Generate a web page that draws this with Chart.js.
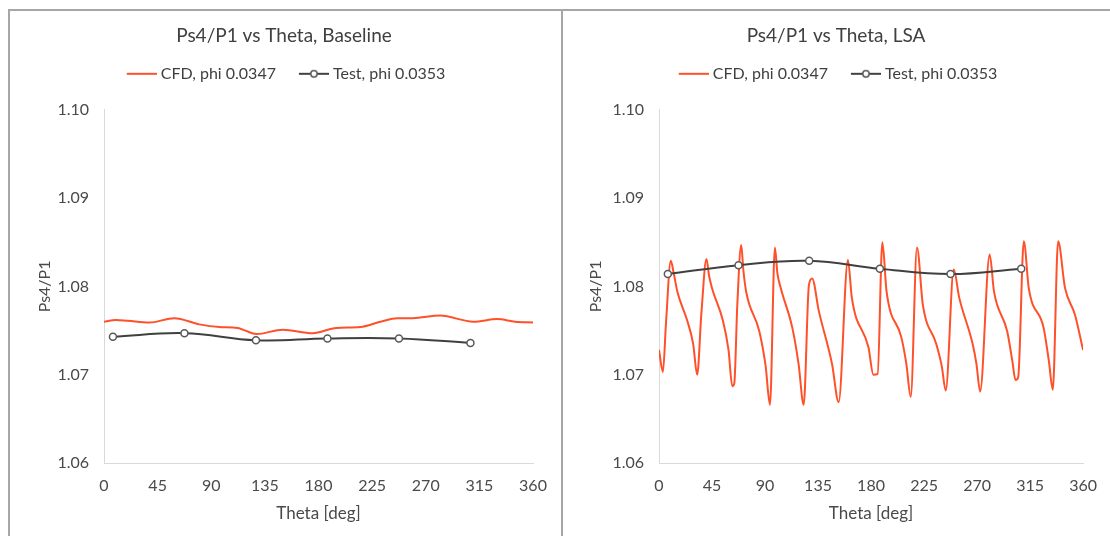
<!DOCTYPE html>
<html>
<head>
<meta charset="utf-8">
<script src="https://cdn.jsdelivr.net/npm/chart.js@4.4.1/dist/chart.umd.min.js"></script>
<style>
  html, body { margin: 0; padding: 0; background: #fff; }
  body { width: 1110px; height: 536px; position: relative; overflow: hidden; }
  .rule { position: absolute; background: #a6a6a6; }
  canvas { display: block; position: absolute; top: 12px; }
</style>
</head>
<body>
<div class="rule" style="left:8px;top:9px;width:1102px;height:2px"></div>
<div class="rule" style="left:8px;top:9px;width:2px;height:527px"></div>
<div class="rule" style="left:561px;top:9px;width:2px;height:527px"></div>
<canvas id="baseline" width="568" height="524" style="left:0px"></canvas>
<canvas id="lsa" width="548" height="524" style="left:562px"></canvas>

<script>
// Circumferential static pressure ratio Ps4/P1 against theta

const xTicks = [0, 45, 90, 135, 180, 225, 270, 315, 360];
const yTicks = [1.06, 1.07, 1.08, 1.09, 1.10];

const cfdLabel = 'CFD, phi 0.0347';
const testLabel = 'Test, phi 0.0353';

// Baseline: CFD trace
const cfdBaseTheta = [0, 10, 20, 38, 59, 80, 97, 112, 128, 150, 175, 195, 215, 232, 246, 259, 282, 310, 330, 345, 360];
const cfdBaseValue = [1.0760, 1.0762, 1.0761, 1.0759, 1.0764, 1.0757, 1.0754, 1.0753, 1.0746, 1.0751, 1.0747, 1.0753, 1.0754, 1.0760, 1.0764, 1.0764, 1.0767, 1.0760, 1.0763, 1.0760, 1.0759];

// Test probe positions (shared by both configurations)
const testTheta = [7.5, 67.5, 127.5, 187.5, 247.5, 307.5];
const testBaseValue = [1.0743, 1.0747, 1.0739, 1.0741, 1.0741, 1.0736];

// LSA: CFD trace
const cfdLsaTheta = [
  0, 3.3, 6, 10, 12.5, 15.6, 24, 29, 32.4,
  36, 40.3, 42.5, 45, 54.3, 59, 62.2, 63.9,
  66.5, 69.8, 71.5, 74, 85.2, 90.5, 94.2,
  98.4, 100.5, 103.4, 113.2, 118.5, 122.8,
  127.3, 130, 135.7, 146.9, 152.5,
  160.4, 163.7, 177.8, 182, 185.6,
  189.6, 193.2, 205.8, 210, 213.7,
  219, 224, 235.3, 240, 243.4,
  250.2, 254.9, 266.2, 269.5, 272.6,
  280.7, 284.4, 295.6, 300, 302.6, 304.9,
  309.7, 313.9, 326.5, 331, 334.3,
  338.8, 344.7, 353.1, 360
];
const cfdLsaValue = [
  1.0728, 1.0703, 1.0760, 1.0829, 1.0815, 1.0794, 1.0761, 1.0735, 1.0700,
  1.0770, 1.0831, 1.0812, 1.0798, 1.0761, 1.0728, 1.0687, 1.0690,
  1.0780, 1.0847, 1.0820, 1.0794, 1.0749, 1.0710, 1.0666,
  1.0844, 1.0815, 1.0798, 1.0753, 1.0712, 1.0666,
  1.0802, 1.0809, 1.0772, 1.0712, 1.0669,
  1.0830, 1.0787, 1.0731, 1.0700, 1.0701,
  1.0850, 1.0794, 1.0742, 1.0712, 1.0675,
  1.0844, 1.0779, 1.0735, 1.0710, 1.0682,
  1.0819, 1.0787, 1.0735, 1.0712, 1.0681,
  1.0836, 1.0794, 1.0749, 1.0715, 1.0694, 1.0697,
  1.0851, 1.0798, 1.0753, 1.0715, 1.0683,
  1.0851, 1.0798, 1.0768, 1.0728
];
const testLsaValue = [1.0814, 1.0824, 1.0829, 1.0820, 1.0814, 1.0820];

const cfdColor = '#ff5029';
const testColor = '#404040';
const textColor = '#4a4a4a';
const fontFamily = 'Lato, "DejaVu Sans", sans-serif';

const pairs = (xs, ys) => xs.map((x, i) => ({ x, y: ys[i] }));

// Legend glyphs: a 30px line sitting close to its label, optionally with an open marker
function makeGlyph(color, withMarker) {
  const c = document.createElement('canvas');
  c.width = 38; c.height = 10;
  const g = c.getContext('2d');
  g.strokeStyle = color;
  g.lineWidth = 2;
  g.beginPath(); g.moveTo(8, 5); g.lineTo(38, 5); g.stroke();
  if (withMarker) {
    g.beginPath(); g.arc(23, 5, 3.2, 0, Math.PI * 2);
    g.fillStyle = '#fff'; g.fill();
    g.lineWidth = 1.5; g.strokeStyle = '#595959'; g.stroke();
  }
  return c;
}
const cfdGlyph = makeGlyph(cfdColor, false);
const testGlyph = makeGlyph(testColor, true);

// Extra room between the legend row and the plot area
const legendGap = {
  id: 'legendGap',
  beforeInit(chart) {
    const fit = chart.legend.fit;
    chart.legend.fit = function () {
      fit.call(this);
      this.height += 18;
    };
  }
};

function buildChart(canvasId, titleText, cfdTheta, cfdValue, testValue, sidePad, yAxisWidth) {
  return new Chart(document.getElementById(canvasId), {
    type: 'line',
    data: {
      datasets: [
        {
          label: cfdLabel,
          data: pairs(cfdTheta, cfdValue),
          borderColor: cfdColor,
          backgroundColor: cfdColor,
          borderWidth: 2,
          pointRadius: 0,
          cubicInterpolationMode: 'monotone',
          order: 2
        },
        {
          label: testLabel,
          data: pairs(testTheta, testValue),
          borderColor: testColor,
          backgroundColor: testColor,
          borderWidth: 2,
          tension: 0.4,
          pointRadius: 3.5,
          pointBorderWidth: 1.5,
          pointBackgroundColor: '#ffffff',
          pointBorderColor: '#595959',
          order: 1
        }
      ]
    },
    options: {
      responsive: false,
      animation: false,
      devicePixelRatio: 1,
      layout: { padding: { left: sidePad, right: sidePad, top: 0, bottom: 0 } },
      plugins: {
        tooltip: { enabled: false },
        title: {
          display: true,
          text: titleText,
          color: '#404040',
          font: { family: fontFamily, size: 19, weight: 'normal' },
          padding: { top: 12, bottom: 0 }
        },
        legend: {
          display: true,
          position: 'top',
          labels: {
            color: '#404040',
            font: { family: fontFamily, size: 16 },
            usePointStyle: true,
            pointStyleWidth: 30,
            padding: 19,
            generateLabels(chart) {
              return chart.data.datasets.map((ds, i) => ({
                text: ds.label,
                datasetIndex: i,
                fillStyle: ds.borderColor,
                strokeStyle: ds.borderColor,
                lineWidth: 2,
                fontColor: '#404040',
                pointStyle: i === 0 ? cfdGlyph : testGlyph,
                hidden: false
              }));
            }
          }
        }
      },
      scales: {
        x: {
          type: 'linear',
          min: 0,
          max: 360,
          afterBuildTicks(scale) { scale.ticks = xTicks.map(v => ({ value: v })); },
          afterFit(scale) { scale.height = 73; },
          ticks: {
            color: textColor,
            font: { family: fontFamily, size: 16 },
            padding: 13,
            maxRotation: 0,
            autoSkip: false,
            callback: v => String(v)
          },
          grid: { display: false, drawTicks: false },
          border: { display: true, color: '#d9d9d9', width: 1 },
          title: {
            display: true,
            text: 'Theta [deg]',
            color: textColor,
            font: { family: fontFamily, size: 17 },
            padding: { top: 0, bottom: 12 }
          }
        },
        y: {
          type: 'linear',
          min: 1.06,
          max: 1.10,
          afterBuildTicks(scale) { scale.ticks = yTicks.map(v => ({ value: v })); },
          afterFit(scale) { scale.width = yAxisWidth; },
          ticks: {
            color: textColor,
            font: { family: fontFamily, size: 16 },
            padding: 15,
            callback: v => Number(v).toFixed(2)
          },
          grid: { display: false, drawTicks: false },
          border: { display: true, color: '#d9d9d9', width: 1 },
          title: {
            display: true,
            text: 'Ps4/P1',
            color: textColor,
            font: { family: fontFamily, size: 16 },
            padding: { top: 0, bottom: 0 }
          }
        }
      }
    },
    plugins: [legendGap]
  });
}

buildChart('baseline', 'Ps4/P1 vs Theta, Baseline', cfdBaseTheta, cfdBaseValue, testBaseValue, 35, 69);
buildChart('lsa', 'Ps4/P1 vs Theta, LSA', cfdLsaTheta, cfdLsaValue, testLsaValue, 24, 73);
</script>
</body>
</html>
